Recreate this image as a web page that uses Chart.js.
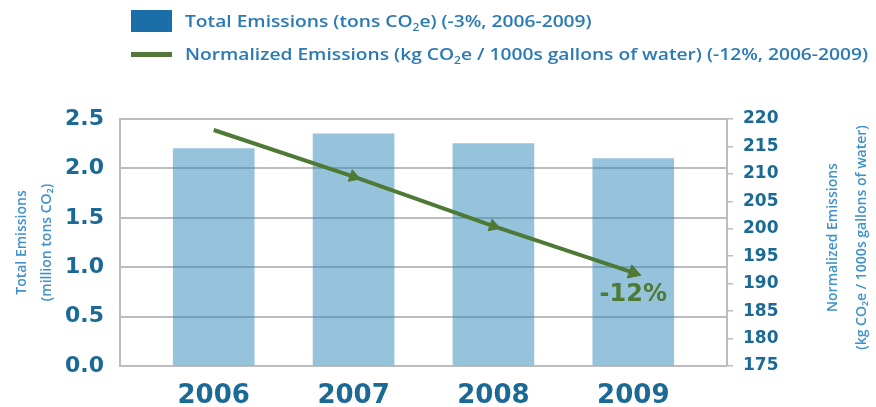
<!DOCTYPE html>
<html>
<head>
<meta charset="utf-8">
<script src="https://cdn.jsdelivr.net/npm/chart.js@4.4.1/dist/chart.umd.min.js"></script>
<style>
  body { margin: 0; background: #fff; }
  #wrap { position: relative; width: 876px; height: 407px; }
  #legend { position: absolute; left: 131px; top: 0; font-family: 'Open Sans'; font-weight: 600; font-size: 16px; color: #2a7ab5; }
  .item { position: absolute; left: 0; white-space: nowrap; display: flex; align-items: center; height: 22px; }
  .item .txt { display: inline-block; transform: scaleX(1.2); transform-origin: left center; }
  .swatch-bar { width: 41px; height: 22px; background: #1c6ea9; margin-right: 13px; }
  .swatch-line { width: 41px; height: 5px; background: #53793a; margin-right: 13px; }
  sub { font-size: 10px; line-height: 0; }
</style>
</head>
<body>
<div id="wrap">
  <canvas id="chart"></canvas>
  <div id="legend">
    <div class="item" style="top: 10px"><span class="swatch-bar"></span><span class="txt">Total Emissions (tons CO<sub>2</sub>e) (-3%, 2006-2009)</span></div>
    <div class="item" style="top: 43px"><span class="swatch-line"></span><span class="txt">Normalized Emissions (kg CO<sub>2</sub>e / 1000s gallons of water) (-12%, 2006-2009)</span></div>
  </div>
</div>
<script>
const years = [2006, 2007, 2008, 2009];
const totalEmissions = [2.2, 2.35, 2.25, 2.1];
const normalizedEmissions = [218, 209.5, 200.5, 192];
const leftTicks = [0, 0.5, 1, 1.5, 2, 2.5];
const rightTicks = [175, 180, 185, 190, 195, 200, 205, 210, 215, 220];
const leftTitle = ['Total Emissions', '(million tons CO\u2082)'];
const rightTitle = ['Normalized Emissions', '(kg CO\u2082e / 1000s gallons of water)'];
const changeLabel = '-12%';

const tickBlue = '#1b6a96';
const titleBlue = '#3f93c8';
const green = '#4f7a35';
const gridGrey = '#bdbdbd';

const extraText = {
  id: 'extraText',
  afterDatasetsDraw(chart) {
    const { ctx, chartArea } = chart;
    const x = chart.scales.x, y2 = chart.scales.y2;
    ctx.save();
    ctx.fillStyle = green;
    ctx.font = 'bold 24px "DejaVu Sans"';
    ctx.textAlign = 'center';
    ctx.textBaseline = 'middle';
    ctx.fillText(changeLabel, x.getPixelForValue(years[3]), y2.getPixelForValue(188));

    // right axis title reads upward like the left one
    const cy = (chartArea.top + chartArea.bottom) / 2 - 5;
    ctx.fillStyle = titleBlue;
    ctx.font = '600 14px "Open Sans"';
    ctx.translate(y2.right - 43, cy);
    ctx.rotate(-Math.PI / 2);
    ctx.fillText(rightTitle[0], 0, 0);
    ctx.fillText(rightTitle[1], 0, 29);
    ctx.restore();
  }
};

new Chart(document.getElementById('chart'), {
  type: 'bar',
  data: {
    datasets: [{
      label: 'Total Emissions',
      data: years.map((yr, i) => ({ x: yr, y: totalEmissions[i] })),
      backgroundColor: 'rgba(45,135,185,0.5)',
      barThickness: 81,
      yAxisID: 'y',
      order: 2
    }, {
      type: 'line',
      label: 'Normalized Emissions',
      data: years.map((yr, i) => ({ x: yr, y: normalizedEmissions[i] })),
      borderColor: green,
      backgroundColor: green,
      borderWidth: 4,
      pointStyle: 'triangle',
      pointRadius: [0, 7, 7, 8],
      pointRotation: [0, 109, 109, 109],
      pointBorderWidth: 1,
      yAxisID: 'y2',
      order: 1
    }]
  },
  options: {
    responsive: true,
    maintainAspectRatio: false,
    animation: false,
    layout: { padding: { top: 119 } },
    plugins: {
      legend: { display: false },
      tooltip: { enabled: false }
    },
    scales: {
      x: {
        type: 'linear',
        offset: false,
        min: 2005.33,
        max: 2009.67,
        afterBuildTicks: s => { s.ticks = years.map(v => ({ value: v })); },
        afterFit: s => { s.height = 41; },
        grid: { display: false },
        border: { display: false },
        ticks: {
          callback: v => String(v),
          color: tickBlue,
          padding: 7,
          font: { family: 'DejaVu Sans', weight: 'bold', size: 26 }
        }
      },
      y: {
        position: 'left',
        min: 0,
        max: 2.5,
        afterBuildTicks: s => { s.ticks = leftTicks.map(v => ({ value: v })); },
        afterFit: s => { s.width = 120; },
        grid: { color: gridGrey, lineWidth: 2, drawTicks: false },
        border: { display: true, color: gridGrey, width: 2 },
        ticks: {
          callback: v => v.toFixed(1),
          color: tickBlue,
          padding: 16,
          font: { family: 'DejaVu Sans', weight: 'bold', size: 22 }
        },
        title: {
          display: true,
          text: leftTitle,
          color: titleBlue,
          padding: { top: 10 },
          font: { family: 'Open Sans', weight: 600, size: 14, lineHeight: 1.75 }
        }
      },
      y2: {
        position: 'right',
        min: 175,
        max: 220,
        afterBuildTicks: s => { s.ticks = rightTicks.map(v => ({ value: v })); },
        afterFit: s => { s.width = 149; },
        grid: { drawOnChartArea: false, color: gridGrey, lineWidth: 1.5, tickLength: 6 },
        border: { display: true, color: gridGrey, width: 2 },
        ticks: {
          color: tickBlue,
          padding: 10,
          font: { family: 'DejaVu Sans', weight: 'bold', size: 17 }
        }
      }
    }
  },
  plugins: [extraText]
});
</script>
</body>
</html>
